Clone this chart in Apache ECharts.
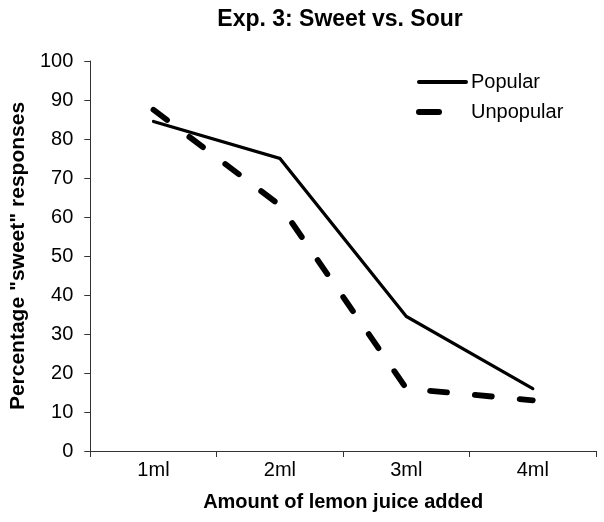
<!DOCTYPE html>
<html><head><meta charset="utf-8">
<script src="https://cdn.jsdelivr.net/npm/echarts@6/dist/echarts.min.js"></script>
<style>html,body{margin:0;padding:0;background:#fff}#c{width:604px;height:522px}</style>
</head><body><div id="c"></div>
<script>
const categories = ['1ml','2ml','3ml','4ml'];
const popular = [84.5, 75, 34.5, 16];
const unpopular = [87.5, 63, 16, 13];
const yTicks = [0,10,20,30,40,50,60,70,80,90,100];
const seriesNames = ['Popular','Unpopular'];

const chart = echarts.init(document.getElementById('c'), null, {renderer:'canvas'});
const F = 'Liberation Sans, Arial, sans-serif';
const axisColor = '#333';
chart.setOption({
  animation:false,
  backgroundColor:'#fff',
  title:{text:'Exp. 3: Sweet vs. Sour', left:340, textAlign:'center', top:8, padding:0,
    textStyle:{fontFamily:F, fontSize:23, fontWeight:'bold', color:'#000'}},
  legend:{orient:'vertical', left:416, top:72, padding:0, itemWidth:47, itemHeight:3, itemGap:10,
    itemStyle:{opacity:0},
    textStyle:{fontFamily:F, fontSize:20, color:'#000', lineHeight:20},
    data:[
      {name:seriesNames[0], lineStyle:{width:4, type:'solid', cap:'round'}},
      {name:seriesNames[1], lineStyle:{width:6, type:[20,40], cap:'round'}}
    ]},
  grid:{left:83, right:8, top:61, bottom:71, containLabel:false},
  xAxis:{type:'category', data:categories, boundaryGap:true,
    name:'Amount of lemon juice added', nameLocation:'middle', nameGap:41,
    nameTextStyle:{fontFamily:F, fontSize:20, fontWeight:'bold', color:'#000'},
    axisLine:{lineStyle:{color:axisColor, width:1}},
    axisTick:{show:true, length:6, inside:false, lineStyle:{color:axisColor}},
    axisLabel:{fontFamily:F, fontSize:20, color:'#000', margin:9},
    splitLine:{show:false}},
  yAxis:{type:'value', min:yTicks[0], max:yTicks[yTicks.length-1], interval:10,
    name:'Percentage "sweet" responses', nameLocation:'middle', nameGap:51, nameRotate:90,
    nameTextStyle:{fontFamily:F, fontSize:21, fontWeight:'bold', color:'#000'},
    axisLine:{show:true, lineStyle:{color:axisColor, width:1}},
    axisTick:{show:true, length:6, lineStyle:{color:axisColor}},
    axisLabel:{fontFamily:F, fontSize:20, color:'#000', margin:17},
    splitLine:{show:false}},
  series:[
    {name:seriesNames[0], type:'line', data:popular, symbol:'none',
      lineStyle:{color:'#000', width:3.2, type:'solid', cap:'round', join:'miter'}, itemStyle:{color:'#000'}},
    {name:seriesNames[1], type:'line', data:unpopular, symbol:'none',
      lineStyle:{color:'#000', width:5.8, type:[17,28], cap:'round'}, itemStyle:{color:'#000'}}
  ]
});
</script></body></html>
